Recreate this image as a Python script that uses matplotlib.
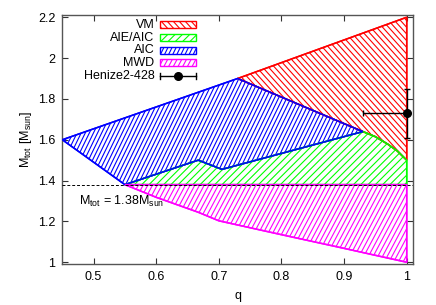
import numpy as np
import matplotlib
matplotlib.use("Agg")
import matplotlib.pyplot as plt
from matplotlib.patches import Polygon, Rectangle
from matplotlib.collections import LineCollection
from matplotlib.lines import Line2D

plt.rcParams["font.family"] = ["Liberation Sans", "DejaVu Sans"]
plt.rcParams["mathtext.fontset"] = "custom"
plt.rcParams["mathtext.rm"] = "Liberation Sans"
plt.rcParams["mathtext.it"] = "Liberation Sans"
plt.rcParams["font.size"] = 9

# --- dados -------------------------------------------------------------------
M_CH = 1.38
aic_top_q = [0.45, 0.73, 0.93]
aic_top_m = [1.60, 1.90, 1.64]
aic_bot_q = [0.45, 0.55, 0.667, 0.705, 0.93]
aic_bot_m = [1.60, 1.38, 1.50, 1.455, 1.64]
aie_top_q = [0.93, 0.95, 0.97, 0.985, 1.00]
aie_top_m = [1.64, 1.615, 1.578, 1.545, 1.50]
vm_top_q = [0.73, 1.00]
vm_top_m = [1.90, 2.20]
mwd_bot_q = [0.55, 0.60, 0.667, 0.70, 0.80, 0.90, 1.00]
mwd_bot_m = [1.38, 1.318, 1.245, 1.203, 1.135, 1.068, 1.00]
hen_q, hen_q_lo, hen_q_hi = 1.00, 0.93, 1.00
hen_m, hen_m_lo, hen_m_hi = 1.73, 1.61, 1.85

labels = ["VM", "AIE/AIC", "AIC", "MWD", "Henize2-428"]
cores = ["#ff0000", "#00ff00", "#0000ff", "#ff00ff"]
# (ângulo em graus, espaçamento horizontal em px) das hachuras
hach = [(-48, 6.0), (45, 7.3), (64, 4.1), (62, 4.7)]

# --- polígonos ----------------------------------------------------------------
vm_poly = (list(zip(vm_top_q, vm_top_m)) + list(zip(aie_top_q[::-1], aie_top_m[::-1]))
           + list(zip(aic_top_q[1:][::-1], aic_top_m[1:][::-1]))[1:])
aie_poly = (list(zip(aic_bot_q[1:], aic_bot_m[1:])) + list(zip(aie_top_q[1:], aie_top_m[1:]))
            + [(1.0, M_CH)])
aic_poly = list(zip(aic_top_q, aic_top_m)) + list(zip(aic_bot_q[1:-1][::-1], aic_bot_m[1:-1][::-1]))
mwd_poly = [(mwd_bot_q[0], M_CH), (1.0, M_CH)] + list(zip(mwd_bot_q[::-1], mwd_bot_m[::-1]))

fig = plt.figure(figsize=(4.36, 3.05), dpi=100)
ax = fig.add_axes([62.3 / 436, 1 - 264.3 / 305, 351 / 436, 249.3 / 305])
ax.set_xlim(0.45, 1.0105)
ax.set_ylim(0.99, 2.211)


def hachura(patch, ang, passo_h, cor, lw=0.8):
    bb = ax.bbox
    th = np.radians(ang)
    d = np.array([np.cos(th), np.sin(th)])
    n = np.array([-np.sin(th), np.cos(th)])
    passo = passo_h * abs(np.sin(th))
    c = np.array([(bb.x0 + bb.x1) / 2, (bb.y0 + bb.y1) / 2])
    R = np.hypot(bb.width, bb.height)
    inv = ax.transData.inverted()
    segs = []
    for k in range(-int(R / passo) - 1, int(R / passo) + 2):
        p = c + k * passo * n
        segs.append(inv.transform([p - R * d, p + R * d]))
    lc = LineCollection(segs, colors=cor, linewidths=lw, zorder=patch.get_zorder())
    ax.add_collection(lc)
    lc.set_clip_path(patch)


for poly, cor, (ang, ph) in zip([vm_poly, aie_poly, aic_poly, mwd_poly], cores, hach):
    p = Polygon(poly, closed=True, facecolor="none", edgecolor=cor, lw=1.1, zorder=2)
    ax.add_patch(p)
    hachura(p, ang, ph, cor)
    # borda por cima da hachura
    ax.add_patch(Polygon(poly, closed=True, facecolor="none", edgecolor=cor, lw=1.1, zorder=3))

ax.axhline(M_CH, color="black", ls=(0, (3, 2)), lw=0.7, zorder=4)
ax.text(0.477, 1.296, r"M$_{\rm tot}$ = 1.38M$_{\rm sun}$", va="center", ha="left", fontsize=9)

ax.errorbar([hen_q], [hen_m], xerr=[[hen_q - hen_q_lo], [hen_q_hi - hen_q]],
            yerr=[[hen_m - hen_m_lo], [hen_m_hi - hen_m]], fmt="o", color="black",
            ms=5.5, lw=1.0, capsize=2.5, capthick=1.0, zorder=5, clip_on=False)

# --- legenda manual (estilo gnuplot) -----------------------------------------
y0, dy = 0.960, 0.0507
for i, lab in enumerate(labels):
    y = y0 - i * dy
    ax.text(0.262, y, lab, transform=ax.transAxes, ha="right", va="center", fontsize=9)
    if i < 4:
        r = Rectangle((0.278, y - 0.014), 0.103, 0.028, transform=ax.transAxes,
                      facecolor="none", edgecolor=cores[i], lw=1.0, zorder=3)
        ax.add_patch(r)
        hachura(r, hach[i][0], hach[i][1], cores[i])
    else:
        ax.add_line(Line2D([0.278, 0.381], [y, y], transform=ax.transAxes, color="black", lw=1.0))
        for xe in (0.278, 0.381):
            ax.add_line(Line2D([xe, xe], [y - 0.012, y + 0.012], transform=ax.transAxes,
                               color="black", lw=1.0))
        ax.plot([0.3295], [y], "o", color="black", ms=5.5, transform=ax.transAxes)

# --- eixos ----------------------------------------------------------------------
xt = [0.5, 0.6, 0.7, 0.8, 0.9, 1.0]
yt = [1.0, 1.2, 1.4, 1.6, 1.8, 2.0, 2.2]
ax.set_xticks(xt)
ax.set_xticklabels(["%g" % v for v in xt])
ax.set_yticks(yt)
ax.set_yticklabels(["%g" % v for v in yt])
ax.tick_params(direction="in", top=True, right=True, length=4, width=0.8,
               color="#333333", labelsize=9, pad=5)
for s in ax.spines.values():
    s.set_color("#555555")
    s.set_linewidth(1.0)
ax.set_xlabel("q", fontsize=9, labelpad=5)
ax.set_ylabel(r"M$_{\rm tot}$ [M$_{\rm sun}$]", fontsize=9, labelpad=3)

fig.savefig("out.png", dpi=100)
